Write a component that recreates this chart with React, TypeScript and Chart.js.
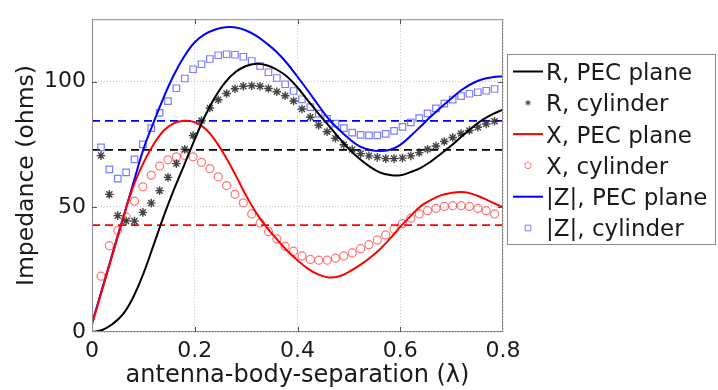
import React, { useEffect, useRef } from 'react';
import { Chart, registerables } from 'chart.js';

Chart.register(...registerables);

const FONT = '"DejaVu Sans", "Liberation Sans", sans-serif';

// antenna-body separation (wavelengths) for the PEC-plane curves
const DIST = [0, 0.02, 0.04, 0.06, 0.08, 0.1, 0.12, 0.14, 0.16, 0.18, 0.2, 0.22, 0.24, 0.26, 0.28, 0.3, 0.32, 0.34, 0.36, 0.38, 0.4,
  0.42, 0.44, 0.46, 0.48, 0.5, 0.52, 0.54, 0.56, 0.58, 0.6, 0.62, 0.64, 0.66, 0.68, 0.7, 0.72, 0.74, 0.76, 0.78, 0.8];
const R_PEC = [0, 0.8, 3.2, 7, 13.8, 23.3, 34.8, 46.5, 57.2, 67, 77, 86.3, 94, 100, 104, 106.3, 107.2, 106.6, 104.8, 102, 97.7,
  92.6, 87.5, 82.7, 77.8, 73.2, 69.3, 66.2, 63.8, 62.7, 62.6, 63.9, 65.6, 68.2, 71.3, 74.6, 78.2, 81.7, 84.8, 87.1, 88.8];
const X_PEC = [3, 17, 31, 45, 58, 67.5, 75, 80.5, 83.5, 84.4, 83.8, 81.3, 76.5, 70, 62.5, 54.5, 47.5, 41.8, 37, 32.5, 28.7,
  25.3, 23, 21.8, 22.2, 24, 26.5, 29.5, 33, 37.3, 42, 46.3, 50.3, 52.8, 54.7, 55.6, 55.9, 55.2, 53.6, 51.7, 49.8];
const Z_PEC = [3.5, 17.5, 31.5, 45.3, 59.2, 73, 83.8, 94, 103, 110.3, 115.8, 119, 120.9, 121.8, 121.7, 120.5, 118.3, 115.3, 111.8, 107.3, 102,
  96.5, 90.8, 85.3, 81, 77.3, 74.3, 72.8, 72.3, 72.8, 74.8, 78.3, 82.2, 86.2, 89.9, 93.4, 96.8, 99.3, 101, 101.8, 102.2];

// cylinder (marker) samples
const D_CYL = [0.0175, 0.0338, 0.0501, 0.0664, 0.0827, 0.099, 0.1153, 0.1316, 0.1479, 0.1642, 0.1805, 0.1968, 0.2131, 0.2294,
  0.2457, 0.262, 0.2783, 0.2946, 0.3109, 0.3272, 0.3435, 0.3598, 0.3761, 0.3924, 0.4087, 0.425, 0.4413, 0.4576, 0.4739, 0.4902,
  0.5065, 0.5228, 0.5391, 0.5554, 0.5717, 0.588, 0.6043, 0.6206, 0.6369, 0.6532, 0.6695, 0.6858, 0.7021, 0.7184, 0.7347, 0.751,
  0.7673, 0.7836];
const R_CYL = [70.5, 55, 46.5, 44.4, 44.3, 47.8, 51.5, 56.5, 61.8, 67.3, 73, 78.5, 84.5, 89.5, 92.8, 95.3, 97.2, 98.2, 98.4, 98.2,
  97.3, 96, 94.4, 92.3, 89.1, 85.8, 82.6, 80, 77.4, 74.8, 72.9, 71.3, 70.4, 69.8, 69.3, 69.3, 69.5, 70.4, 71.7, 73, 74.3, 76.1,
  77.7, 79.3, 80.5, 81.8, 83.1, 84.2];
const X_CYL = [22.3, 34.5, 40.5, 46, 52.3, 58, 62.6, 66.3, 68.8, 70, 70.5, 70, 67.8, 65.3, 62, 58.5, 55, 51.6, 47.2, 43.6, 40.1,
  37.2, 34.2, 32.3, 30.4, 29, 28.7, 28.7, 29.5, 30.4, 31.6, 33.3, 34.9, 36.8, 38.8, 41.1, 43.3, 45.5, 47.2, 48.5, 49.4, 50.2,
  50.5, 50.5, 50.2, 49.4, 48.5, 47.2];
const Z_CYL = [73.8, 65, 61.3, 63.8, 69, 75, 81.5, 87.6, 92.3, 97.4, 101.3, 105, 107, 109.1, 110.6, 111, 110.8, 110, 108.3, 106.3,
  103.8, 101.5, 99, 96.3, 93, 89.9, 87.3, 85.2, 83.3, 81.5, 79.7, 78.8, 78.6, 78.6, 79.2, 80.4, 82, 83.8, 85.5, 87.4, 89.4, 91.3,
  92.9, 94.3, 95.2, 95.8, 96.4, 97.1];

// free-space reference levels (dashed)
const R_FREE = 72.8;
const X_FREE = 42.7;
const Z_FREE = 84.4;

const X_RANGE = [0, 0.8];
const Y_RANGE = [0, 125];
const X_TICKS = [0, 0.2, 0.4, 0.6, 0.8];
const X_TICK_LABELS = ['0', '0.2', '0.4', '0.6', '0.8'];
const Y_TICKS = [0, 50, 100];
const Y_TICK_LABELS = ['0', '50', '100'];
const SERIES_LABELS = ['R, PEC plane', 'R, cylinder', 'X, PEC plane', 'X, cylinder', '|Z|, PEC plane', '|Z|, cylinder'];
const X_TITLE = 'antenna-body-separation (\u03bb)';
const Y_TITLE = 'Impedance (ohms)';

const pts = (xs: number[], ys: number[]) => xs.map((x, i) => ({ x, y: ys[i] }));

export default function App() {
  const ref = useRef<HTMLCanvasElement>(null);

  useEffect(() => {
    const canvas = ref.current;
    if (!canvas) return;

    const lineDs = (label: string, ys: number[], color: string) => ({
      label,
      data: pts(DIST, ys),
      borderColor: color,
      backgroundColor: color,
      borderWidth: 2,
      pointRadius: 0,
      tension: 0.4,
      fill: false,
    });
    const markDs = (label: string, ys: number[], color: string, style: string, radius: number, bw: number) => ({
      label,
      data: pts(D_CYL, ys),
      showLine: false,
      borderColor: color,
      backgroundColor: 'rgba(0,0,0,0)',
      pointStyle: style,
      pointRadius: radius,
      pointBorderWidth: bw,
      pointBorderColor: color,
      pointBackgroundColor: 'rgba(0,0,0,0)',
    });
    const dashDs = (v: number, color: string) => ({
      label: '',
      data: pts(X_RANGE, [v, v]),
      borderColor: color,
      borderWidth: 1.8,
      borderDash: [8, 5],
      pointRadius: 0,
      fill: false,
    });

    const decor = {
      id: 'decor',
      beforeDraw(chart: any) {
        const { ctx } = chart;
        ctx.save();
        ctx.fillStyle = '#ffffff';
        ctx.fillRect(0, 0, chart.width, chart.height);
        ctx.restore();
      },
      afterDatasetsDraw(chart: any) {
        const { ctx, chartArea: a, scales } = chart;
        ctx.save();
        ctx.strokeStyle = '#8c8c8c';
        ctx.lineWidth = 1;
        ctx.strokeRect(a.left + 0.5, a.top + 0.5, a.right - a.left - 1, a.bottom - a.top - 1);
        ctx.strokeStyle = '#555';
        ctx.beginPath();
        X_TICKS.slice(1, -1).forEach((t) => {
          const x = Math.round(scales.x.getPixelForValue(t)) + 0.5;
          ctx.moveTo(x, a.bottom); ctx.lineTo(x, a.bottom - 5);
          ctx.moveTo(x, a.top); ctx.lineTo(x, a.top + 5);
        });
        Y_TICKS.slice(1).forEach((t) => {
          const y = Math.round(scales.y.getPixelForValue(t)) + 0.5;
          ctx.moveTo(a.left, y); ctx.lineTo(a.left + 5, y);
          ctx.moveTo(a.right, y); ctx.lineTo(a.right - 5, y);
        });
        ctx.stroke();
        ctx.restore();
      },
      afterDraw(chart: any) {
        const { ctx } = chart;
        // y-axis title
        ctx.save();
        ctx.translate(26.5, 175.5);
        ctx.rotate(-Math.PI / 2);
        ctx.font = `23.5px ${FONT}`;
        ctx.fillStyle = '#1a1a1a';
        ctx.textAlign = 'center';
        ctx.textBaseline = 'middle';
        ctx.fillText(Y_TITLE, 0, 0);
        ctx.restore();

        // legend
        const L = 507, T = 54, R = 716, B = 245;
        ctx.save();
        ctx.fillStyle = '#ffffff';
        ctx.fillRect(L, T, R - L, B - T);
        ctx.strokeStyle = '#8c8c8c';
        ctx.lineWidth = 1;
        ctx.strokeRect(L + 0.5, T + 0.5, R - L - 1, B - T - 1);
        ctx.font = `23px ${FONT}`;
        ctx.textBaseline = 'alphabetic';
        ctx.textAlign = 'left';
        for (let i = 0; i < SERIES_LABELS.length; i++) {
          const ds = chart.data.datasets[i];
          const cy = 71.5 + 31.3 * i;
          if (ds.showLine === false) {
            const cx = 528;
            ctx.strokeStyle = ds.pointBorderColor;
            ctx.lineWidth = 1;
            ctx.beginPath();
            if (ds.pointStyle === 'circle') {
              ctx.arc(cx, cy, 3.2, 0, Math.PI * 2);
            } else if (ds.pointStyle === 'rect') {
              ctx.rect(cx - 2.8, cy - 2.8, 5.6, 5.6);
            } else {
              for (let k = 0; k < 4; k++) {
                const ang = (k * Math.PI) / 4;
                const dx = Math.cos(ang) * 2.8, dy = Math.sin(ang) * 2.8;
                ctx.moveTo(cx - dx, cy - dy); ctx.lineTo(cx + dx, cy + dy);
              }
            }
            ctx.stroke();
          } else {
            ctx.strokeStyle = ds.borderColor;
            ctx.lineWidth = 2;
            ctx.beginPath();
            ctx.moveTo(513, cy); ctx.lineTo(543, cy);
            ctx.stroke();
          }
          ctx.fillStyle = '#1a1a1a';
          ctx.fillText(ds.label, 546, cy + 8.4);
        }
        ctx.restore();
      },
    };

    const chart = new Chart(canvas, {
      type: 'line',
      data: {
        datasets: [
          lineDs(SERIES_LABELS[0], R_PEC, '#000000'),
          markDs(SERIES_LABELS[1], R_CYL, 'rgba(35,35,35,0.85)', 'star', 4.3, 1.4),
          lineDs(SERIES_LABELS[2], X_PEC, '#ff0000'),
          markDs(SERIES_LABELS[3], X_CYL, 'rgba(255,70,70,0.75)', 'circle', 4, 1.2),
          lineDs(SERIES_LABELS[4], Z_PEC, '#0000ff'),
          markDs(SERIES_LABELS[5], Z_CYL, 'rgba(80,80,255,0.75)', 'rect', 4.6, 1.2),
          dashDs(R_FREE, '#000000'),
          dashDs(X_FREE, '#ff0000'),
          dashDs(Z_FREE, '#0000ff'),
        ] as any,
      },
      options: {
        responsive: false,
        animation: false,
        events: [],
        layout: { padding: { left: 0, top: 12, right: 215, bottom: 0 } },
        plugins: { legend: { display: false }, tooltip: { enabled: false } },
        scales: {
          x: {
            type: 'linear',
            min: X_RANGE[0],
            max: X_RANGE[1],
            afterBuildTicks: (s: any) => { s.ticks = X_TICKS.map((v) => ({ value: v })); },
            afterFit: (s: any) => { s.height = 58; },
            ticks: {
              font: { family: FONT, size: 22 },
              color: '#1a1a1a',
              padding: 6,
              maxRotation: 0,
              autoSkip: false,
              callback: (_v: any, i: number) => X_TICK_LABELS[i],
            },
            grid: { color: '#c4c4c4', lineWidth: 1, drawTicks: false },
            border: { display: false, dash: [1, 2] },
            title: { display: true, text: X_TITLE, font: { family: FONT, size: 24 }, color: '#1a1a1a', padding: { top: 0, bottom: 0 } },
          },
          y: {
            type: 'linear',
            min: Y_RANGE[0],
            max: Y_RANGE[1],
            afterBuildTicks: (s: any) => { s.ticks = Y_TICKS.map((v) => ({ value: v })); },
            afterFit: (s: any) => { s.width = 92; },
            ticks: {
              font: { family: FONT, size: 22 },
              color: '#1a1a1a',
              padding: 6,
              autoSkip: false,
              callback: (_v: any, i: number) => Y_TICK_LABELS[i],
            },
            grid: { color: '#c4c4c4', lineWidth: 1, drawTicks: false },
            border: { display: false, dash: [1, 2] },
            title: { display: false },
          },
        },
      } as any,
      plugins: [decor],
    });
    return () => chart.destroy();
  }, []);

  return (
    <div style={{ position: 'absolute', left: 0, top: 0, width: 718, height: 390, background: '#fff' }}>
      <canvas ref={ref} width={718} height={390} style={{ display: 'block' }} />
    </div>
  );
}
